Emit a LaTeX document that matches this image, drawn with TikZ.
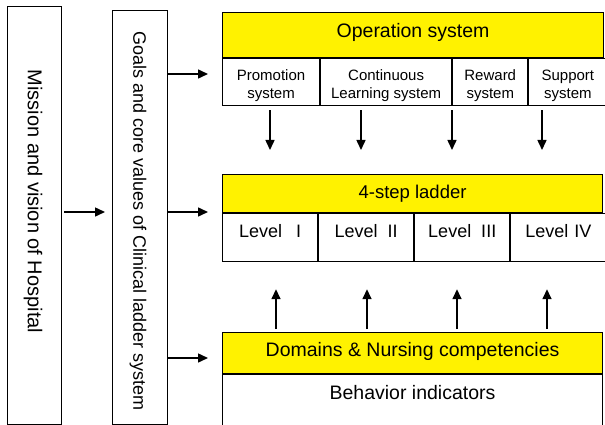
\documentclass[tikz,border=0pt]{standalone}
\usepackage{fontspec}
\setmainfont{Liberation Sans}
\usetikzlibrary{arrows.meta}

\tikzset{
  box/.style={draw, line width=1.1pt, inner sep=0pt, anchor=north west},
  headbox/.style={box, fill=yellow},
  sub/.style={box, minimum height=47pt, text height=40pt, text depth=7pt, align=center,
    font=\fontsize{15}{18}\selectfont},
  level/.style={box, minimum width=95pt, text height=24pt, text depth=24pt, font=\fontsize{18}{20}\selectfont},
  arr/.style={-{Triangle[length=10pt,width=9pt]}, line width=1.5pt},
}

\begin{document}
\begin{tikzpicture}[x=1pt, y=-1pt]
\useasboundingbox (0,0) rectangle (605,425);

% Left columns
\node[box, minimum width=54pt, minimum height=418pt] (mission) at (7,6) {};
\node[rotate=-90, font=\fontsize{20}{22}\selectfont] (missiontxt) at (33,201.5) {Mission and vision of Hospital};
\node[box, minimum width=55pt, minimum height=414pt] (goals) at (112,10) {};
\node[rotate=-90, font=\fontsize{18}{20}\selectfont] (goalstxt) at (138,221) {Goals and core values of Clinical ladder system};

% Operation system
\node[headbox, minimum width=381pt, text height=25pt, text depth=20pt, font=\fontsize{19.5}{22}\selectfont] (ops) at (222,12) {Operation system};
\node[sub, minimum width=97pt] (promo) at (ops.south west) {Promotion\\system};
\node[sub, minimum width=131pt] (learn) at (promo.north east) {Continuous\\Learning system};
\node[sub, minimum width=75pt] (reward) at (learn.north east) {Reward\\system};
\node[sub, minimum width=78pt] (support) at (reward.north east) {Support\\system};

% 4-step ladder
\node[headbox, minimum width=380pt, text height=24pt, text depth=14pt, font=\fontsize{18.5}{20}\selectfont] (ladder) at (222,174) {4-step ladder};
\node[level] (lvl1) at (ladder.south west) {Level\hspace{14pt}I};
\node[level] (lvl2) at (lvl1.north east) {Level\hspace{10pt}II};
\node[level] (lvl3) at (lvl2.north east) {Level\hspace{10pt}III};
\node[level] (lvl4) at (lvl3.north east) {Level\hspace{6pt}IV};

% Competencies
\node[headbox, minimum width=380pt, text height=24pt, text depth=17pt, font=\fontsize{19.5}{22}\selectfont] (domains) at (222,332) {Domains \& Nursing competencies};
\node[box, minimum width=380pt, text height=25pt, text depth=26pt, font=\fontsize{19.5}{22}\selectfont] (behav) at (domains.south west) {Behavior indicators};

% Arrows
\draw[arr, shorten <=2pt, shorten >=7pt] (mission.east |- 0,212) -- (goals.west |- 0,212);
\foreach \y/\blk in {74/ops, 212/ladder, 358/domains}
  \draw[arr, shorten >=14pt] (goals.east |- 0,\y) -- (\blk.west |- 0,\y);
\foreach \x in {270,361,452,542}
  \draw[arr, shorten <=4pt, shorten >=24pt] (promo.south -| \x,0) -- (ladder.north -| \x,0);
\foreach \x in {276,367,457,547}
  \draw[arr, shorten <=3pt, shorten >=27pt] (domains.north -| \x,0) -- (lvl1.south -| \x,0);
\end{tikzpicture}
\end{document}
